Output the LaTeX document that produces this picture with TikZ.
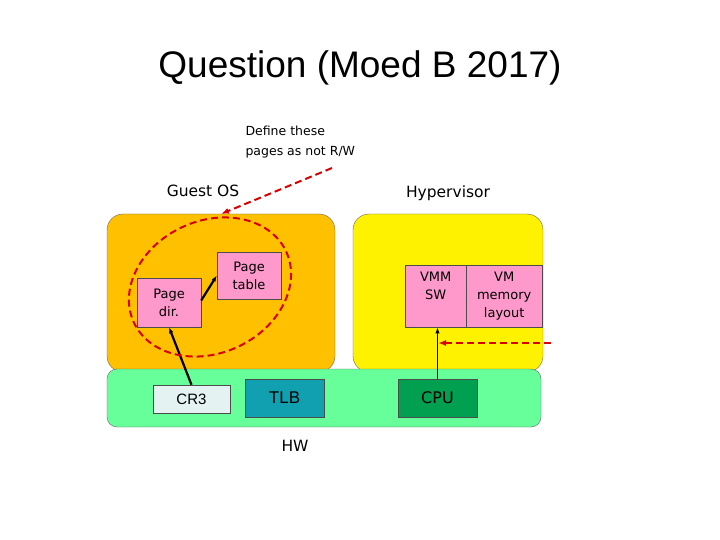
\documentclass[tikz,border=0pt]{standalone}
\usepackage{fontspec}
\setmainfont{DejaVu Sans}
\newfontfamily\titlefont{Liberation Sans}
\usetikzlibrary{arrows.meta}
\definecolor{osorange}{RGB}{255,192,0}
\definecolor{hwgreen}{RGB}{102,255,153}
\definecolor{pagepink}{RGB}{255,153,204}
\definecolor{tlbteal}{RGB}{16,160,176}
\definecolor{cpugreen}{RGB}{0,160,80}
\definecolor{cregray}{RGB}{228,242,242}
\tikzset{
  region/.style={draw=black!60, rounded corners=16pt},
  block/.style={draw=black!70, align=center, inner sep=0pt},
  redarrow/.style={draw=red!85!black, line width=2pt, dash pattern=on 7pt off 4pt, -{Latex[length=8pt]}}
}
\begin{document}
\begin{tikzpicture}[x=1pt,y=-1pt]
\useasboundingbox[fill=white] (0,0) rectangle (720,540);

\node[font=\titlefont\fontsize{37}{37}\selectfont] (title) at (360,68) {Question (Moed B 2017)};
\node[anchor=west, align=left, font=\fontsize{12.5}{20}\selectfont] (note) at (242,142) {Define these\\pages as not R/W};
\node[font=\fontsize{15.5}{15}\selectfont] (guestlbl) at (203,191) {Guest OS};
\node[font=\fontsize{15.5}{15}\selectfont] (hyplbl) at (448,193) {Hypervisor};

\draw[region, fill=osorange] (107,214) rectangle (335,372);
\draw[region, fill=yellow] (353,214) rectangle (543,372);
\draw[region, fill=hwgreen, rounded corners=10pt] (107,369) rectangle (541,427);
\node[font=\fontsize{15.5}{15}\selectfont] (hwlbl) at (295,446) {HW};

\node[block, fill=pagepink, minimum width=64pt, minimum height=49pt, font=\fontsize{13}{18}\selectfont] (pagedir) at (169,302.5) {Page\\dir.};
\node[block, fill=pagepink, minimum width=64pt, minimum height=47pt, font=\fontsize{13}{18}\selectfont] (pagetable) at (249,275.5) {Page\\table};
\node[block, fill=cregray, minimum width=77pt, minimum height=28pt, font=\titlefont\fontsize{15}{15}\selectfont] (cr3) at (191.5,399) {CR3};
\node[block, fill=tlbteal, minimum width=79pt, minimum height=38pt, font=\titlefont\fontsize{17}{17}\selectfont] (tlb) at (284.5,398) {TLB};
\node[block, fill=cpugreen, minimum width=79pt, minimum height=38pt, font=\fontsize{16}{16}\selectfont] (cpu) at (437.5,398) {CPU};
\node[block, fill=pagepink, minimum width=61pt, minimum height=62pt, font=\fontsize{13}{18}\selectfont, anchor=north west] (vmmsw) at (405,265) {VMM\\SW\\[2pt]\mbox{}};
\node[block, fill=pagepink, minimum width=76pt, minimum height=62pt, font=\fontsize{13}{18}\selectfont, anchor=north west] (vmlayout) at (466,265) {VM\\memory\\layout};

\draw[line width=2.2pt, -{Latex[length=6pt]}] (pagedir.east) ++(0,-2) -- (pagetable.west);
\draw[line width=2.2pt, -{Latex[length=6pt]}] (cr3.north) -- (pagedir.south);
\draw[line width=1.3pt, -{Latex[length=6pt]}] (cpu.north) -- (cpu.north |- vmmsw.south);

\coordinate (memfrom) at (551,343);
\coordinate (memto) at (438,343);
\draw[redarrow] (memfrom) -- (memto);
\coordinate (notefrom) at (332,168);
\coordinate (noteto) at (221,214);
\draw[redarrow] (notefrom) -- (noteto);
\draw[draw=red!85!black, line width=2pt, dash pattern=on 7pt off 4pt, rotate around={25:(210,287)}] (210,287) ellipse [x radius=84, y radius=66];
\end{tikzpicture}
\end{document}
